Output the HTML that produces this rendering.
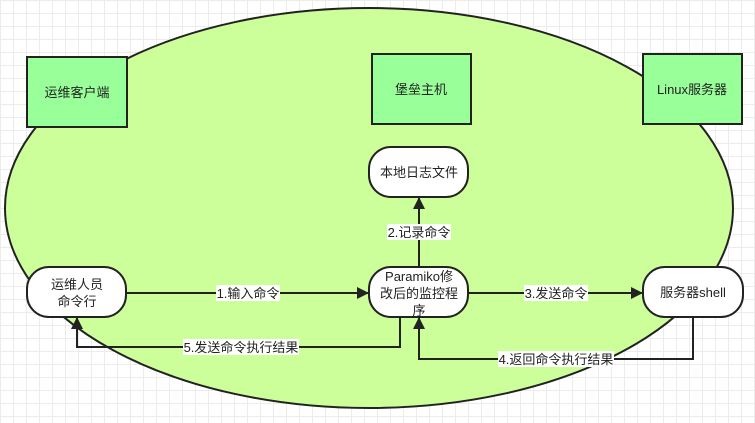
<!DOCTYPE html>
<html><head><meta charset="utf-8"><style>
html,body{margin:0;padding:0;}
body{width:755px;height:418px;overflow:hidden;background:#fff;
background-image:linear-gradient(#ececec 1px,transparent 1px),linear-gradient(90deg,#ececec 1px,transparent 1px);background-size:13px 13px;}
svg text{font-family:"Liberation Sans","Noto Sans CJK SC",sans-serif;font-size:13px;fill:#222;}
</style></head><body>
<svg width="755" height="418" xmlns="http://www.w3.org/2000/svg">
<defs><marker id="a" markerWidth="12" markerHeight="12" refX="11" refY="6" orient="auto" markerUnits="userSpaceOnUse"><path d="M0,0 L12,6 L0,12 z" fill="#222"/></marker></defs>
<ellipse cx="369" cy="208" rx="364" ry="200" fill="#ccff99" stroke="#222" stroke-width="2"/>
<rect x="27" y="57" width="100" height="70" fill="#99ff99" stroke="#222" stroke-width="2"/>
<text x="77" y="97" text-anchor="middle">运维客户端</text>
<rect x="372" y="54" width="99" height="70" fill="#99ff99" stroke="#222" stroke-width="2"/>
<text x="421" y="94" text-anchor="middle">堡垒主机</text>
<rect x="643" y="54" width="99" height="70" fill="#99ff99" stroke="#222" stroke-width="2"/>
<text x="692" y="94" text-anchor="middle">Linux服务器</text>
<rect x="369" y="147" width="99" height="50" rx="22" fill="#fff" stroke="#222" stroke-width="2"/>
<text x="419" y="177" text-anchor="middle">本地日志文件</text>
<rect x="27" y="267" width="99" height="50" rx="22" fill="#fff" stroke="#222" stroke-width="2"/>
<text x="77" y="289" text-anchor="middle">运维人员</text>
<text x="77" y="306" text-anchor="middle">命令行</text>
<rect x="369" y="267" width="99" height="50" rx="22" fill="#fff" stroke="#222" stroke-width="2"/>
<text x="419" y="281" text-anchor="middle">Paramiko修</text>
<text x="419" y="298" text-anchor="middle">改后的监控程</text>
<text x="419" y="315" text-anchor="middle">序</text>
<rect x="643" y="267" width="100" height="50" rx="22" fill="#fff" stroke="#222" stroke-width="2"/>
<text x="693" y="297" text-anchor="middle">服务器shell</text>
<g stroke="#222" stroke-width="2" fill="none">
<line x1="127" y1="293" x2="368" y2="293" marker-end="url(#a)"/>
<line x1="469" y1="293" x2="642" y2="293" marker-end="url(#a)"/>
<line x1="419" y1="266" x2="419" y2="198" marker-end="url(#a)"/>
<polyline points="400,318 400,347 77,347 77,318" marker-end="url(#a)"/>
<polyline points="693,318 693,359 419,359 419,318" marker-end="url(#a)"/>
</g>
<g>
<rect x="216" y="285" width="64" height="16" fill="#fff"/><text x="248" y="298" text-anchor="middle">1.输入命令</text>
<rect x="524" y="285" width="64" height="16" fill="#fff"/><text x="556" y="298" text-anchor="middle">3.发送命令</text>
<rect x="387" y="224" width="64" height="16" fill="#fff"/><text x="419" y="237" text-anchor="middle">2.记录命令</text>
<rect x="183" y="339" width="116" height="16" fill="#fff"/><text x="241" y="352" text-anchor="middle">5.发送命令执行结果</text>
<rect x="498" y="351" width="116" height="16" fill="#fff"/><text x="556" y="364" text-anchor="middle">4.返回命令执行结果</text>
</g>
</svg>
</body></html>
